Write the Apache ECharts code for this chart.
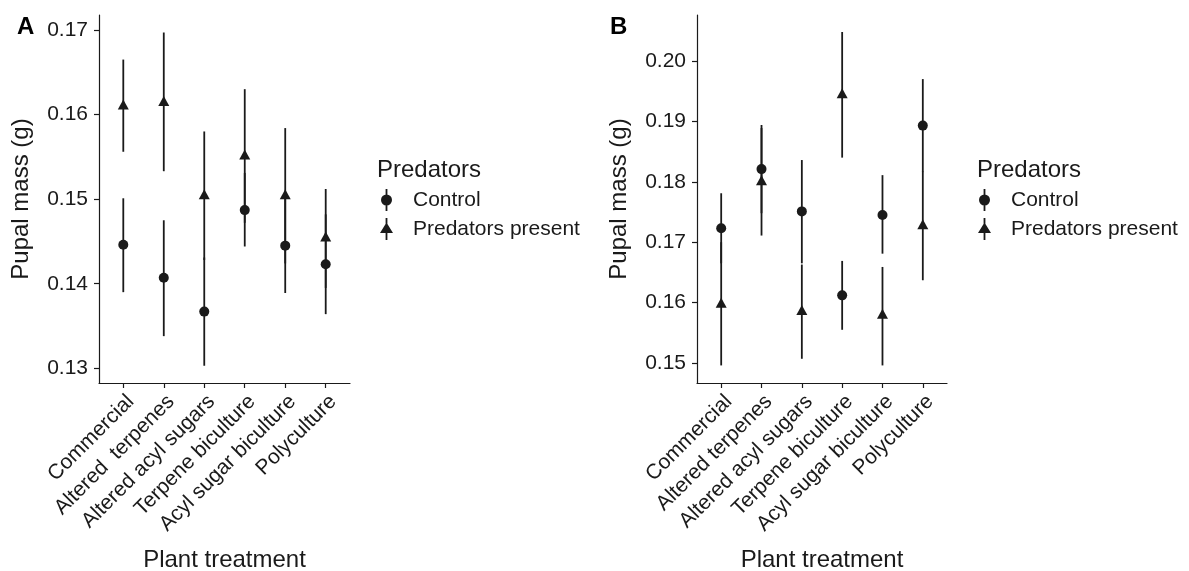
<!DOCTYPE html>
<html>
<head>
<meta charset="utf-8">
<script src="https://cdn.jsdelivr.net/npm/echarts@6/dist/echarts.min.js"></script>
<style>
  html, body { margin: 0; padding: 0; background: #fff; }
  #chart { width: 1189px; height: 571px; }
</style>
</head>
<body>
<div id="chart"></div>
<script>
// Plant treatments (panel A label has a double space in the original)
const catsA = ["Commercial", "Altered  terpenes", "Altered acyl sugars", "Terpene biculture", "Acyl sugar biculture", "Polyculture"];
const catsB = ["Commercial", "Altered terpenes", "Altered acyl sugars", "Terpene biculture", "Acyl sugar biculture", "Polyculture"];
const groups = ["Control", "Predators present"];

// Panel A: mean and error-bar ends
const controlMeanA = [0.1446, 0.1407, 0.1367, 0.1487, 0.1445, 0.1423];
const controlLowA = [0.1390, 0.1338, 0.1303, 0.1444, 0.1389, 0.1364];
const controlHighA = [0.1501, 0.1475, 0.1431, 0.1531, 0.1501, 0.1482];
const predMeanA = [0.1610, 0.1614, 0.1504, 0.1551, 0.1504, 0.1454];
const predLowA = [0.1556, 0.1533, 0.1428, 0.1472, 0.1424, 0.1395];
const predHighA = [0.1665, 0.1697, 0.1580, 0.1630, 0.1584, 0.1512];

// Panel B
const controlMeanB = [0.1723, 0.1821, 0.1751, 0.1612, 0.1745, 0.1893];
const controlLowB = [0.1665, 0.1748, 0.1665, 0.1555, 0.1681, 0.1816];
const controlHighB = [0.1781, 0.1894, 0.1836, 0.1669, 0.1811, 0.1970];
const predMeanB = [0.1597, 0.1800, 0.1585, 0.1944, 0.1579, 0.1727];
const predLowB = [0.1496, 0.1711, 0.1507, 0.1840, 0.1496, 0.1637];
const predHighB = [0.1700, 0.1889, 0.1663, 0.2048, 0.1659, 0.1817];

const yTicksA = [0.13, 0.14, 0.15, 0.16, 0.17];
const yTicksB = [0.15, 0.16, 0.17, 0.18, 0.19, 0.20];
const xTicks = [1, 2, 3, 4, 5, 6];

const ink = "#1a1a1a";
const font = "Liberation Sans";

// legend keys: point with a vertical bar through it, like ggplot's pointrange key
// (all subpaths wound clockwise so the overlap stays filled)
const circleIcon = "path://M4.1,0 H5.9 V22 H4.1 Z M-0.5,11 A5.5,5.5 0 1,1 10.5,11 A5.5,5.5 0 1,1 -0.5,11 Z";
const triIcon = "path://M4.1,0 H5.9 V22 H4.1 Z M-1.5,15 L5,4.5 L11.5,15 Z";

const chart = echarts.init(document.getElementById("chart"));

function points(means) {
  return means.map((v, i) => [i + 1, v]);
}
function bars(lows, highs) {
  return lows.map((v, i) => [i + 1, v, highs[i]]);
}
function errBar(params, api) {
  const lo = api.coord([api.value(0), api.value(1)]);
  const hi = api.coord([api.value(0), api.value(2)]);
  return {
    type: "line",
    shape: { x1: lo[0], y1: lo[1], x2: hi[0], y2: hi[1] },
    style: { stroke: ink, lineWidth: 1.8 }
  };
}

function xAxisFor(gridIndex, cats) {
  return {
    type: "value",
    gridIndex: gridIndex,
    min: 0.4,
    max: 6.6,
    name: "Plant treatment",
    nameLocation: "middle",
    nameGap: 165,
    nameTextStyle: { fontFamily: font, fontSize: 24, color: ink },
    axisLine: { lineStyle: { color: ink, width: 1.2 } },
    axisTick: { customValues: xTicks, length: 5, lineStyle: { color: ink, width: 1.2 } },
    axisLabel: {
      customValues: xTicks,
      rotate: 45,
      align: "right",
      verticalAlign: "top",
      margin: 8,
      fontFamily: font,
      fontSize: 21,
      color: ink,
      formatter: v => cats[Math.round(v) - 1]
    },
    splitLine: { show: false }
  };
}

function yAxisFor(gridIndex, ticks, min, max) {
  return {
    type: "value",
    gridIndex: gridIndex,
    min: min,
    max: max,
    name: "Pupal mass (g)",
    nameLocation: "middle",
    nameGap: 66,
    nameTextStyle: { fontFamily: font, fontSize: 24, color: ink },
    axisLine: { show: true, lineStyle: { color: ink, width: 1.2 } },
    axisTick: { show: true, customValues: ticks, length: 5, lineStyle: { color: ink, width: 1.2 } },
    axisLabel: {
      customValues: ticks,
      margin: 11,
      fontFamily: font,
      fontSize: 21,
      color: ink,
      formatter: v => v.toFixed(2)
    },
    splitLine: { show: false }
  };
}

function legendFor(left) {
  return {
    left: left,
    top: 189,
    orient: "vertical",
    itemWidth: 13,
    itemHeight: 22,
    itemGap: 7,
    padding: 0,
    selectedMode: false,
    symbolKeepAspect: true,
    textStyle: { fontFamily: font, fontSize: 21, color: ink, padding: [0, 0, 0, 15] },
    data: [
      { name: groups[0], icon: circleIcon, itemStyle: { color: ink } },
      { name: groups[1], icon: triIcon, itemStyle: { color: ink } }
    ]
  };
}

function panelSeries(idx, cMean, cLow, cHigh, pMean, pLow, pHigh) {
  return [
    {
      name: groups[0], type: "scatter", xAxisIndex: idx, yAxisIndex: idx,
      symbol: "circle", symbolSize: 10, itemStyle: { color: ink, opacity: 1 },
      data: points(cMean), z: 3
    },
    {
      name: groups[1], type: "scatter", xAxisIndex: idx, yAxisIndex: idx,
      symbol: "triangle", symbolSize: [11, 10], symbolOffset: [0, -1.6],
      itemStyle: { color: ink, opacity: 1 },
      data: points(pMean), z: 3
    },
    {
      name: "bars " + groups[0], type: "custom", xAxisIndex: idx, yAxisIndex: idx,
      renderItem: errBar, data: bars(cLow, cHigh), z: 2
    },
    {
      name: "bars " + groups[1], type: "custom", xAxisIndex: idx, yAxisIndex: idx,
      renderItem: errBar, data: bars(pLow, pHigh), z: 2
    }
  ];
}

chart.setOption({
  animation: false,
  backgroundColor: "#fff",
  title: [
    { text: "A", left: 12, top: 10, textStyle: { fontFamily: font, fontSize: 24, fontWeight: "bold", color: "#000" } },
    { text: "B", left: 605, top: 10, textStyle: { fontFamily: font, fontSize: 24, fontWeight: "bold", color: "#000" } },
    { text: "Predators", left: 372, top: 153, textStyle: { fontFamily: font, fontSize: 24, fontWeight: "normal", color: ink } },
    { text: "Predators", left: 972, top: 153, textStyle: { fontFamily: font, fontSize: 24, fontWeight: "normal", color: ink } }
  ],
  legend: [legendFor(380), legendFor(978)],
  grid: [
    { left: 99, top: 15, width: 251, height: 368, containLabel: false, outerBoundsMode: "none" },
    { left: 697, top: 15, width: 250, height: 368, containLabel: false, outerBoundsMode: "none" }
  ],
  xAxis: [xAxisFor(0, catsA), xAxisFor(1, catsB)],
  yAxis: [yAxisFor(0, yTicksA, 0.12826, 0.17177), yAxisFor(1, yTicksB, 0.14669, 0.20761)],
  series: [].concat(
    panelSeries(0, controlMeanA, controlLowA, controlHighA, predMeanA, predLowA, predHighA),
    panelSeries(1, controlMeanB, controlLowB, controlHighB, predMeanB, predLowB, predHighB)
  )
});
</script>
</body>
</html>
